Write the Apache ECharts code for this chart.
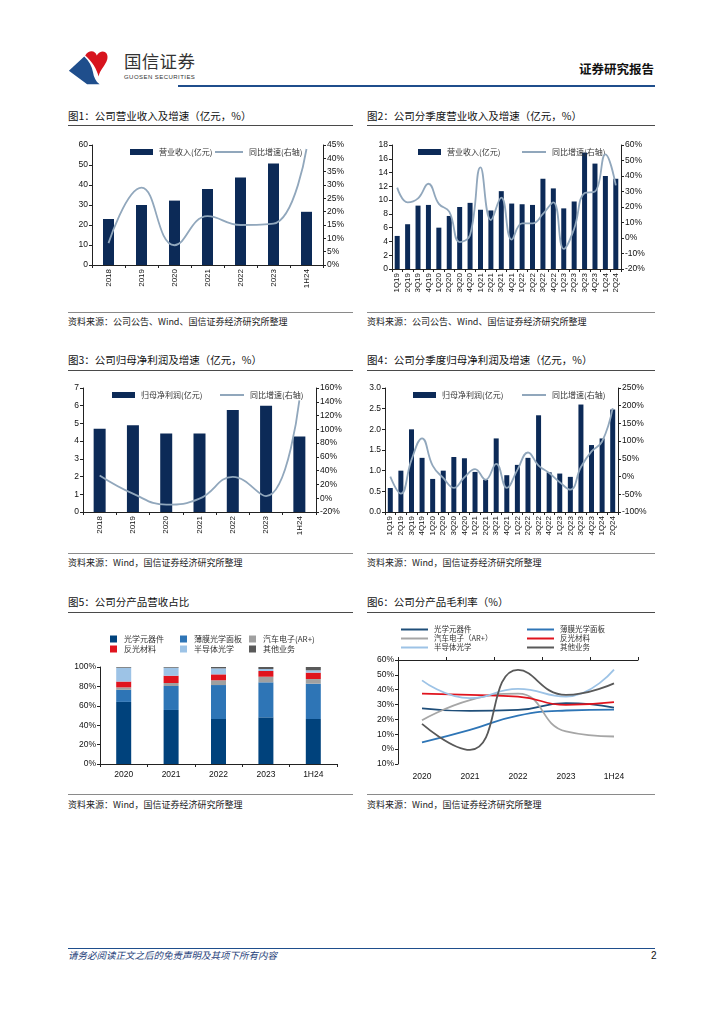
<!DOCTYPE html>
<html><head><meta charset="utf-8">
<script src="https://cdn.jsdelivr.net/npm/echarts@6/dist/echarts.min.js"></script>
<style>
body{margin:0;width:724px;height:1024px;background:#fff;position:relative;font-family:"Noto Sans CJK SC",sans-serif;overflow:hidden}
.title{position:absolute;font-size:10.5px;color:#111;white-space:nowrap;line-height:1}
.uline{position:absolute;height:1.4px;background:#4a4a4a}
.sline{position:absolute;height:1.2px;background:#8a8a8a}
.src{position:absolute;font-size:9px;color:#222;white-space:nowrap;line-height:1}
.chart{position:absolute}
</style></head><body>

<svg style="position:absolute;left:66px;top:47px" width="48" height="40" viewBox="0 0 50 40">
  <path d="M3 24 L19 9 C24 14 27 19 28 25 C29 31 31 35 35 38 L22 38 Z" fill="#1f4e8c"/>
  <path d="M20 8 C24 1 31 3 32 8 C36 1 45 3 43 12 C41 19 35 23 34 30 C32 22 27 14 20 8 Z" fill="#d7141e"/>
</svg>
<div style="position:absolute;left:124px;top:52px;font-size:17.5px;color:#333;letter-spacing:0.3px;line-height:1">国信证券</div>
<div style="position:absolute;left:124px;top:74px;font-size:6px;color:#333;font-family:'Liberation Sans',sans-serif;line-height:1;letter-spacing:0.45px">GUOSEN SECURITIES</div>
<div style="position:absolute;left:579px;top:63px;font-size:12.5px;font-weight:bold;color:#111;line-height:1">证券研究报告</div>
<div style="position:absolute;left:178px;top:85px;width:477px;height:2px;background:#1f4e8c"></div>

<div class="title" style="left:68px;top:111px">图1：公司营业收入及增速（亿元，%）</div>
<div class="uline" style="left:68px;top:125px;width:285px"></div>
<div class="title" style="left:367px;top:111px">图2：公司分季度营业收入及增速（亿元，%）</div>
<div class="uline" style="left:367px;top:125px;width:288px"></div>
<div class="sline" style="left:68px;top:312px;width:285px"></div>
<div class="sline" style="left:367px;top:312px;width:288px"></div>
<div class="src" style="left:68px;top:317px">资料来源：公司公告、Wind、国信证券经济研究所整理</div>
<div class="src" style="left:367px;top:317px">资料来源：公司公告、Wind、国信证券经济研究所整理</div>

<div class="title" style="left:68px;top:355px">图3：公司归母净利润及增速（亿元，%）</div>
<div class="uline" style="left:68px;top:370px;width:285px"></div>
<div class="title" style="left:367px;top:355px">图4：公司分季度归母净利润及增速（亿元，%）</div>
<div class="uline" style="left:367px;top:370px;width:288px"></div>
<div class="sline" style="left:68px;top:553px;width:285px"></div>
<div class="sline" style="left:367px;top:553px;width:288px"></div>
<div class="src" style="left:68px;top:558px">资料来源：Wind，国信证券经济研究所整理</div>
<div class="src" style="left:367px;top:558px">资料来源：Wind，国信证券经济研究所整理</div>

<div class="title" style="left:68px;top:597px">图5：公司分产品营收占比</div>
<div class="uline" style="left:68px;top:612px;width:285px"></div>
<div class="title" style="left:367px;top:597px">图6：公司分产品毛利率（%）</div>
<div class="uline" style="left:367px;top:612px;width:288px"></div>
<div class="sline" style="left:68px;top:794px;width:285px"></div>
<div class="sline" style="left:367px;top:794px;width:288px"></div>
<div class="src" style="left:68px;top:800px">资料来源：Wind，国信证券经济研究所整理</div>
<div class="src" style="left:367px;top:800px">资料来源：Wind，国信证券经济研究所整理</div>

<div style="position:absolute;left:68px;top:948px;width:587px;height:1px;background:#1f4e8c"></div>
<div style="position:absolute;left:68px;top:951px;font-size:9.5px;font-style:italic;color:#1f3f7a;line-height:1">请务必阅读正文之后的免责声明及其项下所有内容</div>
<div style="position:absolute;left:651px;top:951px;font-size:10px;color:#111;font-family:'Liberation Sans',sans-serif;line-height:1">2</div>

<div id="c1" class="chart" style="left:60px;top:130px;width:300px;height:180px"></div>
<div id="c2" class="chart" style="left:360px;top:130px;width:300px;height:180px"></div>
<div id="c3" class="chart" style="left:60px;top:375px;width:300px;height:175px"></div>
<div id="c4" class="chart" style="left:360px;top:375px;width:300px;height:175px"></div>
<div id="c5" class="chart" style="left:60px;top:620px;width:300px;height:170px"></div>
<div id="c6" class="chart" style="left:360px;top:615px;width:300px;height:175px"></div>

<script>
// ---------- data ----------
const years = ['2018','2019','2020','2021','2022','2023','1H24'];
const revenue = [23.0, 30.0, 32.2, 38.0, 43.8, 50.8, 26.6];
const revenueYoY = [8.2, 29.0, 7.4, 18.3, 15.0, 15.5, 43.5];

const quarters = ['1Q19','2Q19','3Q19','4Q19','1Q20','2Q20','3Q20','4Q20','1Q21','2Q21','3Q21','4Q21','1Q22','2Q22','3Q22','4Q22','1Q23','2Q23','3Q23','4Q23','1Q24','2Q24'];
const qRevenue = [4.8, 6.5, 9.2, 9.3, 6.0, 7.7, 9.0, 9.6, 8.6, 8.5, 11.3, 9.5, 9.4, 9.3, 13.1, 11.7, 8.8, 9.8, 16.9, 15.3, 13.5, 13.1];
const qRevenueYoY = [32.5, 23, 25.6, 35, 22, 17, -2.6, 2, 45.6, 11.6, 26, -1, 9.5, 9.5, 15.5, 23, -7, 6, 29, 30, 54, 34];

const netProfit = [4.7, 4.9, 4.43, 4.43, 5.76, 6.0, 4.26];
const netProfitYoY = [33, 6.6, -9.4, -0.7, 31, 3, 142];

const qProfit = [0.58, 1.0, 2.0, 1.31, 0.8, 1.0, 1.33, 1.3, 0.97, 0.78, 1.78, 0.89, 1.14, 1.31, 2.34, 0.96, 0.93, 0.85, 2.6, 1.62, 1.78, 2.48];
const qProfitYoY = [0, -48, 47, 108, 31, -4, -32, -2, 21, -9, 36, -32, 19, 68, 31, 10, -16, -37, 27, 71, 99, 193];

const segYears = ['2020','2021','2022','2023','1H24'];
const segNames = ['光学元器件','薄膜光学面板','汽车电子(AR+)','反光材料','半导体光学','其他业务'];
const shareOptical   = [64.0, 55.7, 46.4, 48.1, 46.4];
const shareFilm      = [12.5, 24.7, 35.0, 36.1, 36.4];
const shareAuto      = [2.5, 3.1, 4.9, 5.8, 4.8];
const shareReflect   = [6.0, 7.5, 6.1, 5.9, 6.6];
const shareSemi      = [14.3, 8.3, 6.2, 2.0, 2.4];
const shareOther     = [0.7, 0.7, 1.4, 2.1, 3.4];

const marginNames = ['光学元器件','薄膜光学面板','汽车电子（AR+）','反光材料','半导体光学','其他业务'];
const marginOptical  = [27.5, 25.7, 26.4, 31.0, 28.0];
const marginFilm     = [4.5, 13.0, 22.6, 26.0, 26.6];
const marginAuto     = [19.5, 33.0, 37.4, 11.9, 8.5];
const marginReflect  = [37.4, 36.5, 35.4, 29.8, 31.6];
const marginSemi     = [46.3, 34.3, 40.5, 35.4, 53.5];
const marginOther    = [17.0, -0.5, 53.3, 36.5, 44.3];

// ---------- styles ----------
const FONT = "'Liberation Sans','Noto Sans CJK SC',sans-serif";
const CJK = "'Noto Sans CJK SC',sans-serif";
const NAVY = '#0c2a57';
const LINEC = '#91a7bc';
const AX = '#222';

function axisCommon(){
  return {
    axisLine:{show:true,lineStyle:{color:AX,width:1}},
    axisTick:{show:true,length:3,lineStyle:{color:AX}},
    splitLine:{show:false},
    axisLabel:{color:'#111',fontSize:8.5,fontFamily:FONT,margin:4}
  };
}

function barLine(el, cfg){
  const ch = echarts.init(document.getElementById(el));
  const L = axisCommon(), R = axisCommon();
  const lgText = {fontSize:8, color:'#333', fontFamily:CJK, padding:[0,0,0,1]};
  ch.setOption({
    animation:false,
    textStyle:{fontFamily:FONT},
    grid:cfg.grid,
    legend:[
      {left:cfg.legendBar, top:cfg.legendTop, itemWidth:23, itemHeight:6, icon:'rect', textStyle:lgText, data:[cfg.barName]},
      {left:cfg.legendLine, top:cfg.legendTop, itemWidth:cfg.lineIconW||24, itemHeight:2, icon:'rect', textStyle:lgText, data:[cfg.lineName]}
    ],
    xAxis:{type:'category', data:cfg.cats, boundaryGap:true,
      axisLine:{lineStyle:{color:AX}},
      axisTick:{show:true,length:3,alignWithLabel:false,lineStyle:{color:AX}},
      axisLabel:{rotate:90, fontSize:8, color:'#111', fontFamily:FONT, margin:4, interval:0}
    },
    yAxis:[
      Object.assign(L,{type:'value', position:'left', min:cfg.left[0], max:cfg.left[1], interval:cfg.left[2],
        axisLabel:Object.assign(L.axisLabel,{formatter:cfg.leftFmt||(v=>v)})}),
      Object.assign(R,{type:'value', position:'right', min:cfg.right[0], max:cfg.right[1], interval:cfg.right[2],
        axisLabel:Object.assign(R.axisLabel,{formatter:v=>v+'%'})})
    ],
    series:[
      {name:cfg.barName, type:'bar', data:cfg.bar, barWidth:cfg.barWidth, itemStyle:{color:NAVY}, yAxisIndex:0},
      {name:cfg.lineName, type:'line', data:cfg.line, yAxisIndex:1, smooth:0.45, symbol:'none',
       lineStyle:{color:LINEC, width:1.8}, itemStyle:{color:LINEC}, z:5}
    ]
  });
}

barLine('c1',{grid:{left:32,top:15,width:231,height:120}, legendBar:65, legendLine:150, legendTop:13, lineIconW:28,
  cats:years, bar:revenue, line:revenueYoY, barWidth:11,
  barName:'营业收入(亿元)', lineName:'同比增速(右轴)',
  left:[0,60,10], right:[0,45,5]});

barLine('c2',{grid:{left:32,top:15,width:229,height:124}, legendBar:53, legendLine:157, legendTop:13,
  cats:quarters, bar:qRevenue, line:qRevenueYoY, barWidth:5,
  barName:'营业收入(亿元)', lineName:'同比增速(右轴)',
  left:[0,18,2], right:[-20,60,10]});

barLine('c3',{grid:{left:23,top:13,width:233,height:124}, legendBar:47, legendLine:155, legendTop:11,
  cats:years, bar:netProfit, line:netProfitYoY, barWidth:12,
  barName:'归母净利润(亿元)', lineName:'同比增速(右轴)',
  left:[0,7,1], right:[-20,160,20]});

barLine('c4',{grid:{left:25,top:13,width:233,height:124}, legendBar:48, legendLine:157, legendTop:11,
  cats:quarters, bar:qProfit, line:qProfitYoY, barWidth:5,
  barName:'归母净利润(亿元)', lineName:'同比增速(右轴)',
  left:[0,3,0.5], right:[-100,250,50], leftFmt:v=>v.toFixed(1)});

// ---------- chart 5 ----------
(function(){
  const ch = echarts.init(document.getElementById('c5'));
  const colors = ['#00427c','#2e75b6','#a0a0a0','#e0141e','#9dc3e6','#595959'];
  const shares = [shareOptical, shareFilm, shareAuto, shareReflect, shareSemi, shareOther];
  const lg = (left, names) => ({left:left, top:10, orient:'vertical', itemWidth:7, itemHeight:7, itemGap:2,
     icon:'rect', textStyle:{fontSize:8, color:'#333', fontFamily:CJK, padding:[0,0,0,2]}, data:names});
  const y = axisCommon();
  ch.setOption({
    animation:false,
    grid:{left:40,top:47,width:237,height:97},
    legend:[lg(45,[segNames[0],segNames[3]]), lg(115,[segNames[1],segNames[4]]), lg(184,[segNames[2],segNames[5]])],
    xAxis:{type:'category', data:segYears,
      axisLine:{lineStyle:{color:AX}}, axisTick:{show:true,length:3,lineStyle:{color:AX}},
      axisLabel:{fontSize:8.5,color:'#111',fontFamily:FONT,margin:6}},
    yAxis:Object.assign(y,{type:'value',min:0,max:100,interval:20,
      axisLabel:Object.assign(y.axisLabel,{formatter:v=>v+'%'})}),
    series:shares.map((d,i)=>({name:segNames[i], type:'bar', stack:'s', data:d, barWidth:15,
      itemStyle:{color:colors[i]}}))
  });
})();

// ---------- chart 6 ----------
(function(){
  const ch = echarts.init(document.getElementById('c6'));
  const colors = ['#1f4e79','#2e75b6','#a6a6a6','#e0141e','#9dc3e6','#595959'];
  const margins = [marginOptical, marginFilm, marginAuto, marginReflect, marginSemi, marginOther];
  const lg = (left, names) => ({left:left, top:5, orient:'vertical', itemWidth:27, itemHeight:2, itemGap:0, icon:'rect',
     textStyle:{fontSize:7.5, lineHeight:9, height:9, color:'#333', fontFamily:CJK, padding:[0,0,0,1]}, data:names});
  const y = axisCommon();
  ch.setOption({
    animation:false,
    grid:{left:38,top:45,width:240,height:104},
    legend:[lg(36,[marginNames[0],marginNames[2],marginNames[4]]), lg(162,[marginNames[1],marginNames[3],marginNames[5]])],
    xAxis:[
      {type:'category', data:segYears, position:'bottom', axisLine:{show:false}, axisTick:{show:false},
        axisLabel:{fontSize:8.5,color:'#111',fontFamily:FONT,margin:8}},
      {type:'category', data:segYears, position:'top', axisLine:{show:true,onZero:true,lineStyle:{color:AX}},
        axisTick:{show:true,length:3,lineStyle:{color:AX}}, axisLabel:{show:false}}
    ],
    yAxis:Object.assign(y,{type:'value',min:-10,max:60,interval:10,
      axisLine:{show:true,onZero:false,lineStyle:{color:AX}},
      axisLabel:Object.assign(y.axisLabel,{formatter:v=>Math.abs(v)+'%'})}),
    series:margins.map((d,i)=>({name:marginNames[i], type:'line', data:d, smooth:0.5, symbol:'none',
      lineStyle:{color:colors[i], width:1.8}, itemStyle:{color:colors[i]}}))
  });
})();
</script>
</body></html>
